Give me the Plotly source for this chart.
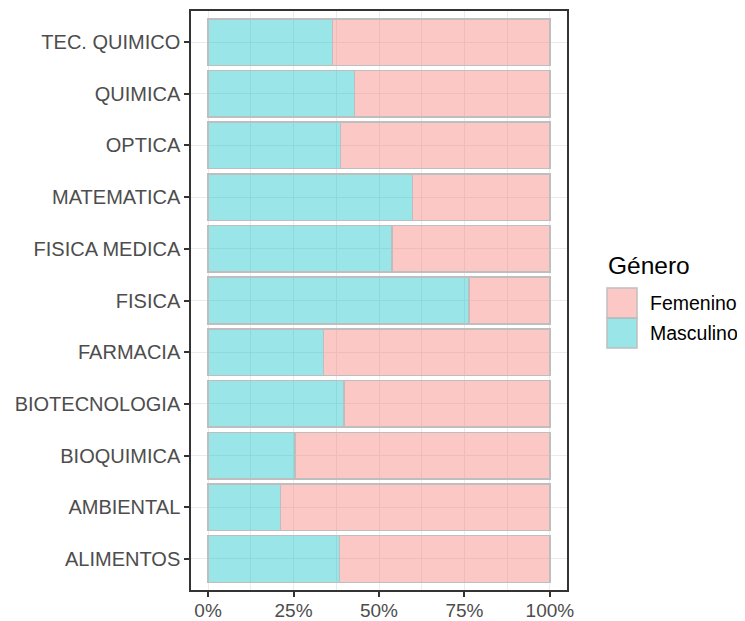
import plotly.graph_objects as go

# carreras (de abajo hacia arriba, como en el eje)
carreras = ["ALIMENTOS", "AMBIENTAL", "BIOQUIMICA", "BIOTECNOLOGIA", "FARMACIA",
            "FISICA", "FISICA MEDICA", "MATEMATICA", "OPTICA", "QUIMICA", "TEC. QUIMICO"]

# proporcion por genero
masculino = [0.384, 0.212, 0.254, 0.397, 0.337, 0.763, 0.538, 0.598, 0.387, 0.429, 0.364]
femenino = [0.616, 0.788, 0.746, 0.603, 0.663, 0.237, 0.462, 0.402, 0.613, 0.571, 0.636]

x_ticks = [0, 0.25, 0.5, 0.75, 1]
x_labels = ["0%", "25%", "50%", "75%", "100%"]

col_fem = "rgba(248,118,109,0.4)"
col_masc = "rgba(0,191,196,0.4)"
borde = "#BEBEBE"

fig = go.Figure()
fig.add_trace(go.Bar(y=carreras, x=masculino, orientation="h", name="Masculino",
                     marker=dict(color=col_masc, line=dict(color=borde, width=1.5))))
fig.add_trace(go.Bar(y=carreras, x=femenino, orientation="h", name="Femenino",
                     marker=dict(color=col_fem, line=dict(color=borde, width=1.5))))

# la pagina tiene 8px de margen en el body, se compensa aqui
fig.update_layout(
    width=737, height=613,
    barmode="stack", bargap=0.1,
    plot_bgcolor="white", paper_bgcolor="white",
    margin=dict(l=183, r=178, t=3, b=31),
    font=dict(family="Liberation Sans, Arial, sans-serif", color="#4D4D4D", size=20),
    showlegend=False,
)

fig.update_xaxes(
    range=[-0.05, 1.05], tickvals=x_ticks, ticktext=x_labels, automargin=False,
    showgrid=True, gridcolor="#EBEBEB", gridwidth=1.2,
    minor=dict(dtick=0.125, tick0=0, showgrid=True, gridcolor="#EBEBEB", gridwidth=0.6, ticks=""),
    showline=True, mirror=True, linecolor="#333333", linewidth=1.5,
    ticks="outside", ticklen=5, tickwidth=1.5, tickcolor="#333333",
    ticklabelstandoff=-3,
    tickfont=dict(size=19, color="#4D4D4D"), zeroline=False,
)
fig.update_yaxes(
    categoryorder="array", categoryarray=carreras, range=[-0.6, 10.6], automargin=False,
    showgrid=True, gridcolor="#EBEBEB", gridwidth=1.2,
    showline=True, mirror=True, linecolor="#333333", linewidth=1.5,
    ticks="outside", ticklen=5, tickwidth=1.5, tickcolor="#333333",
    tickfont=dict(size=20, color="#4D4D4D"), zeroline=False,
)

# leyenda manual (cuadros grandes como en ggplot)
def px_x(p):
    return (p - 191) / 376

def px_y(p):
    return (590 - p) / 579

fig.add_annotation(text="Género", xref="paper", yref="paper", x=px_x(606), y=px_y(265),
                   xanchor="left", yanchor="middle", showarrow=False,
                   font=dict(size=24.5, color="black"))
for nombre, color, top in [("Femenino", col_fem, 288), ("Masculino", col_masc, 318)]:
    fig.add_shape(type="rect", xref="paper", yref="paper",
                  x0=px_x(607), x1=px_x(637), y0=px_y(top + 30), y1=px_y(top),
                  fillcolor=color, line=dict(color=borde, width=1.5))
    fig.add_annotation(text=nombre, xref="paper", yref="paper", x=px_x(648), y=px_y(top + 15),
                       xanchor="left", yanchor="middle", showarrow=False,
                       font=dict(size=19.5, color="black"))

fig.write_html("out.html")
